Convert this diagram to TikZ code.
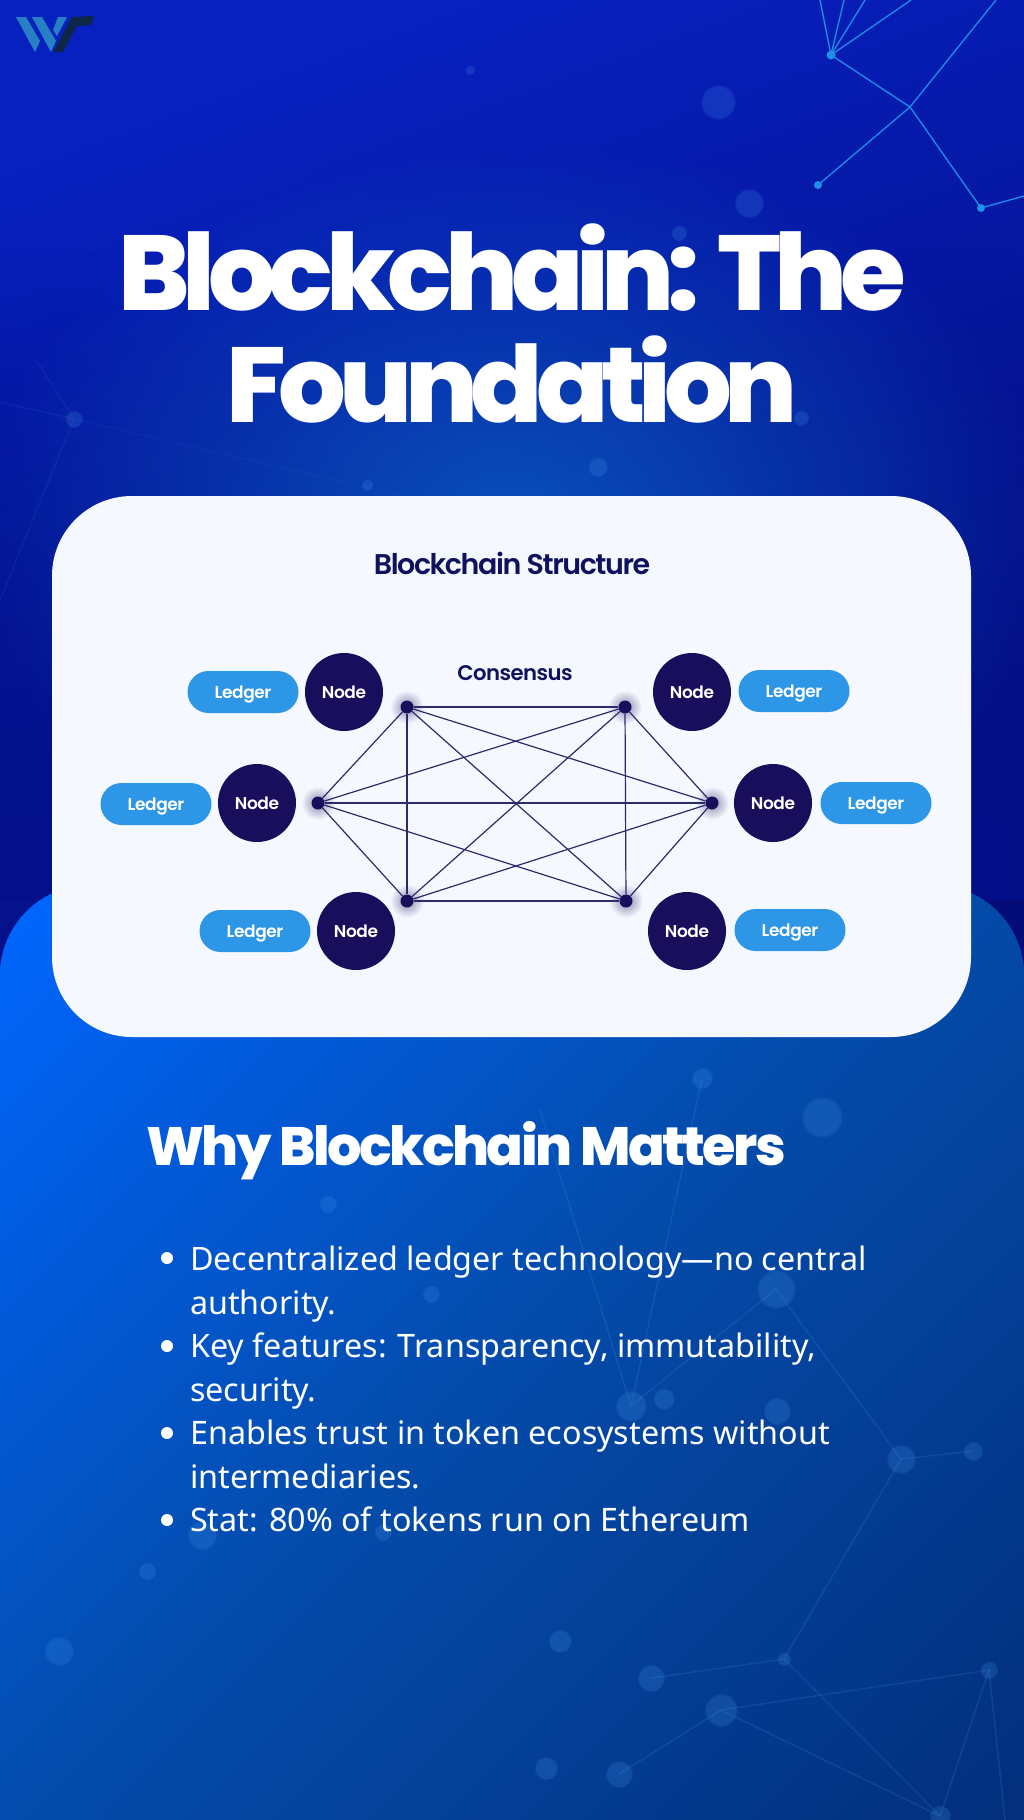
\documentclass[tikz,border=0pt]{standalone}
\usepackage{fontspec}
\usetikzlibrary{fadings}
\newfontfamily\titlefont{Poppins ExtraBold}[LetterSpace=-6.8]
\newfontfamily\whyfont{Poppins ExtraBold}[LetterSpace=-4.6]
\newfontfamily\headfont{Poppins SemiBold}[LetterSpace=-2.5]
\newfontfamily\cardfont{Poppins SemiBold}[LetterSpace=-5]
\newfontfamily\bodyfont{Noto Sans}
\definecolor{cardwhite}{HTML}{F5F9FF}
\definecolor{peerblue}{HTML}{190E5B}
\definecolor{ledgerblue}{HTML}{2E96E6}
\definecolor{linkblue}{HTML}{2B2A6B}
\definecolor{netblue}{HTML}{1E8FE8}
\definecolor{inkblue}{HTML}{11125E}
\definecolor{skyleft}{HTML}{0720C0}
\definecolor{skyright}{HTML}{040C78}
\definecolor{skylow}{HTML}{03108A}
\definecolor{skyglow}{HTML}{0A55BE}
\definecolor{panela}{HTML}{0066FF}
\definecolor{panelb}{HTML}{044BAA}
\definecolor{panelc}{HTML}{032F7C}
\definecolor{faintblue}{HTML}{4A9CF0}
\tikzfading[name=glowfade,inner color=transparent!5,outer color=transparent!100]
\pgfdeclarehorizontalshading{panelfill}{100bp}{color(0bp)=(panela); color(15bp)=(panela); color(50bp)=(panelb); color(85bp)=(panelc); color(100bp)=(panelc)}
\tikzstyle{peer}=[circle,fill=peerblue,text=white,minimum size=78pt,inner sep=0pt,text height=12pt,text depth=0pt,font=\headfont\fontsize{17}{20}\selectfont]
\tikzstyle{ledger}=[rounded corners=21pt,fill=ledgerblue,text=white,minimum width=111pt,minimum height=42pt,inner sep=0pt,text height=12pt,text depth=0pt,font=\headfont\fontsize{17}{20}\selectfont]
\tikzstyle{dot}=[circle,fill=peerblue,minimum size=13pt,inner sep=0pt]
\tikzstyle{halo}=[inner color=peerblue!50,outer color=cardwhite]
\tikzstyle{link}=[linkblue,line width=1.2pt]
\tikzstyle{net}=[netblue,line width=1.3pt]
\tikzstyle{faint}=[faintblue,opacity=.16,line width=1.5pt]
\tikzstyle{spot}=[faintblue,opacity=.2,path fading=circle with fuzzy edge 15 percent]
\tikzstyle{bullet}=[circle,fill=white,minimum size=12pt,inner sep=0pt]
\tikzstyle{textline}=[text=white,font=\bodyfont\fontsize{32.3}{43.7}\selectfont,inner sep=0pt,anchor=north west,align=left]

\begin{document}
\begin{tikzpicture}[y=-1pt,x=1pt]
	\useasboundingbox (0,0) rectangle (1024,1820);

	%background
	\shade[left color=skyleft,right color=skyright,shading angle=20] (0,0) rectangle (1024,1000);
	\fill[skylow,path fading=north] (0,250) rectangle (1024,900);
	\fill[skyglow,path fading=glowfade] (512,530) ellipse (540pt and 390pt);

	%top network
	\draw[net] (820,0) -- (831,55);
	\draw[net] (844,0) -- (831,55);
	\draw[net] (865,0) -- (831,55);
	\draw[net] (911,0) -- (831,55);
	\draw[net] (831,55) -- (910,107);
	\draw[net] (996,0) -- (910,107);
	\draw[net] (818,185) -- (910,107);
	\draw[net] (910,107) -- (981,208);
	\draw[net] (981,208) -- (1024,196);
	\fill[netblue] (831,55) circle (4.5pt);
	\fill[netblue] (818,185) circle (4pt);
	\fill[netblue] (981,208) circle (4pt);

	%faint top network
	\draw[faint,opacity=.09] (0,402) -- (74,419) -- (36,360);
	\draw[faint,opacity=.09] (74,419) -- (0,600);
	\draw[faint,opacity=.05] (74,419) -- (420,500);
	\fill[spot] (74,419) circle (9pt);
	\fill[spot] (470,70) circle (5pt);
	\fill[spot] (718,102) circle (18pt);
	\fill[spot] (598,467) circle (10pt);
	\fill[spot] (367,485) circle (6pt);
	\fill[spot] (801,418) circle (8pt);
	\fill[spot] (679,233) circle (8pt);
	\fill[spot] (749,203) circle (15pt);

	%lower panel
	\shade[shading=panelfill,shading angle=-45]
		(0,1820) {[rounded corners=90pt] -- (0,885) -- (1024,885)} -- (1024,1820) -- cycle;

	%faint lower network
	\draw[faint] (776,1289) -- (631,1406);
	\draw[faint] (776,1289) -- (901,1459) -- (784,1659);
	\draw[faint] (702,1078) -- (631,1406) -- (540,1110);
	\draw[faint] (721,1710) -- (989,1670) -- (940,1816);
	\draw[faint] (989,1670) -- (1005,1820);
	\draw[faint] (784,1659) -- (940,1816) -- (721,1710) -- (619,1774);
	\draw[faint] (784,1659) -- (651,1678);
	\draw[faint] (901,1459) -- (973,1451);
	\fill[spot] (702,1078) circle (11pt);
	\fill[spot] (822,1117) circle (21pt);
	\fill[spot] (776,1289) circle (20pt);
	\fill[spot] (631,1406) circle (16pt);
	\fill[spot] (664,1399) circle (11pt);
	\fill[spot] (777,1411) circle (14pt);
	\fill[spot] (901,1459) circle (15pt);
	\fill[spot] (973,1451) circle (10pt);
	\fill[spot] (784,1659) circle (7pt);
	\fill[spot] (989,1670) circle (9pt);
	\fill[spot] (721,1710) circle (17pt);
	\fill[spot] (651,1678) circle (14pt);
	\fill[spot] (619,1774) circle (14pt);
	\fill[spot] (546,1768) circle (12pt);
	\fill[spot] (560,1641) circle (12pt);
	\fill[spot] (147,1571) circle (9pt);
	\fill[spot] (202,1535) circle (15pt);
	\fill[spot] (59,1651) circle (15pt);
	\fill[spot] (383,1532) circle (9pt);
	\fill[spot] (431,1294) circle (9pt);
	\fill[spot] (328,1204) circle (9pt);
	\fill[spot] (940,1816) circle (11pt);

	%logo
	\fill[ledgerblue!85!black] (16,17) -- (26,17) -- (40,41) -- (35,52) -- cycle;
	\fill[ledgerblue!85!black] (32,17) -- (42,17) -- (56,41) -- (51,52) -- cycle;
	\fill[ledgerblue!85!black] (58,17) -- (67,17) -- (57,36) -- (53,30) -- cycle;
	\fill[inkblue!40!ledgerblue!40!black] (53,52) -- (72,17) -- (94,16) -- (91,25) -- (77,26) -- (63,52) -- cycle;

	%title
	\node[text=white,font=\titlefont\fontsize{106.5}{112}\selectfont,align=center,inner sep=0pt] (title) at (512,323) {Blockchain: The\\Foundation};

	%card
	\fill[cardwhite,rounded corners=80pt] (52,496) rectangle (971,1037);
	\node[text=inkblue,font=\cardfont\fontsize{28.5}{32}\selectfont,inner sep=0pt] (card title) at (512,563) {Blockchain Structure};
	\node[text=inkblue,font=\headfont\fontsize{21.2}{26}\selectfont,inner sep=0pt] (consensus) at (515,673) {Consensus};

	%halos
	\shade[halo] (407,707) circle (17pt);
	\shade[halo] (625,707) circle (17pt);
	\shade[halo] (318,803) circle (17pt);
	\shade[halo] (712,803) circle (17pt);
	\shade[halo] (407,901) circle (17pt);
	\shade[halo] (626,901) circle (17pt);

	\node[dot] (dot tl) at (407,707) {};
	\node[dot] (dot tr) at (625,707) {};
	\node[dot] (dot ml) at (318,803) {};
	\node[dot] (dot mr) at (712,803) {};
	\node[dot] (dot bl) at (407,901) {};
	\node[dot] (dot br) at (626,901) {};

	\draw[link] (dot tl) -- (dot tr);
	\draw[link] (dot tl) -- (dot ml);
	\draw[link] (dot tl) -- (dot mr);
	\draw[link] (dot tl) -- (dot bl);
	\draw[link] (dot tl) -- (dot br);
	\draw[link] (dot tr) -- (dot ml);
	\draw[link] (dot tr) -- (dot mr);
	\draw[link] (dot tr) -- (dot bl);
	\draw[link] (dot tr) -- (dot br);
	\draw[link] (dot ml) -- (dot mr);
	\draw[link] (dot ml) -- (dot bl);
	\draw[link] (dot ml) -- (dot br);
	\draw[link] (dot mr) -- (dot bl);
	\draw[link] (dot mr) -- (dot br);
	\draw[link] (dot bl) -- (dot br);

	\node[peer] (peer tl) at (344,692) {Node};
	\node[peer] (peer tr) at (692,692) {Node};
	\node[peer] (peer ml) at (257,803) {Node};
	\node[peer] (peer mr) at (773,803) {Node};
	\node[peer] (peer bl) at (356,931) {Node};
	\node[peer] (peer br) at (687,931) {Node};

	\node[ledger] (ledger tl) at (243,692) {Ledger};
	\node[ledger] (ledger tr) at (794,691) {Ledger};
	\node[ledger] (ledger ml) at (156,804) {Ledger};
	\node[ledger] (ledger mr) at (876,803) {Ledger};
	\node[ledger] (ledger bl) at (255,931) {Ledger};
	\node[ledger] (ledger br) at (790,930) {Ledger};

	%why
	\node[text=white,font=\whyfont\fontsize{54}{60}\selectfont,inner sep=0pt,anchor=base west] (why) at (146,1165) {Why Blockchain Matters};

	\node[bullet] (bullet a) at (167,1258) {};
	\node[bullet] (bullet b) at (167,1346) {};
	\node[bullet] (bullet c) at (167,1433) {};
	\node[bullet] (bullet d) at (167,1520) {};

	\node[textline] (line a) at (190,1246) {Decentralized ledger technology—no central\\authority.};
	\node[textline] (line b) at (190,1333) {Key features: Transparency, immutability,\\security.};
	\node[textline] (line c) at (190,1420) {Enables trust in token ecosystems without\\intermediaries.};
	\node[textline] (line d) at (190,1507) {Stat: 80\% of tokens run on Ethereum};
\end{tikzpicture}
\end{document}
